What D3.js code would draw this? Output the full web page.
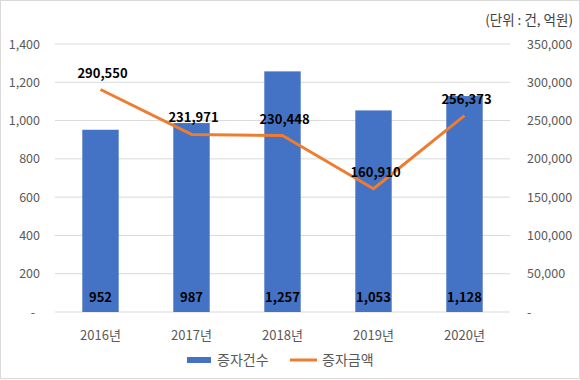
<!DOCTYPE html>
<html><head><meta charset="utf-8">
<script src="https://cdn.jsdelivr.net/npm/d3@7"></script>
<style>body{margin:0;background:#fff}svg{display:block}</style>
</head><body><svg id="c" width="580" height="380"></svg>
<script>
const categories = ["2016년","2017년","2018년","2019년","2020년"];
const counts = [952, 987, 1257, 1053, 1128];
const amounts = [290550, 231971, 230448, 160910, 256373];
const leftTicks = [0, 200, 400, 600, 800, 1000, 1200, 1400];
const rightTicks = [0, 50000, 100000, 150000, 200000, 250000, 300000, 350000];
const seriesNames = ["증자건수", "증자금액"];
const unitLabel = "(단위 : 건, 억원)";

const font = "'Malgun Gothic','Noto Sans CJK KR','Noto Sans',sans-serif";
const svg = d3.select("#c");
svg.append("rect").attr("x",0.5).attr("y",0.5).attr("width",579).attr("height",378)
  .attr("fill","#fff").attr("stroke","#d9d9d9");

const L = 55, R = 510, T = 44, B = 312;
const x = d3.scaleBand().domain(categories).range([L, R]).paddingInner(0.6).paddingOuter(0.3);
const yL = d3.scaleLinear().domain([0, 1400]).range([B, T]);
const yR = d3.scaleLinear().domain([0, 350000]).range([B, T]);
const fmt = d3.format(",");

// gridlines
svg.append("g").selectAll("line").data(leftTicks).join("line")
  .attr("x1", L).attr("x2", R).attr("y1", d => yL(d)).attr("y2", d => yL(d))
  .attr("stroke", "#d9d9d9").attr("stroke-width", 1);

// left axis
const la = svg.append("g").attr("transform", `translate(40,0)`)
  .call(d3.axisLeft(yL).tickValues(leftTicks).tickSize(0).tickPadding(0)
    .tickFormat(d => d === 0 ? "-" : fmt(d)));
la.select(".domain").remove();
la.selectAll("text").attr("font-family", font).attr("font-size", 12.5).attr("fill", "#595959");
la.selectAll(".tick").filter(d => d === 0).select("text").attr("dx", -5);

// right axis
const ra = svg.append("g").attr("transform", `translate(527,0)`)
  .call(d3.axisRight(yR).tickValues(rightTicks).tickSize(0).tickPadding(0)
    .tickFormat(d => d === 0 ? "-" : fmt(d)));
ra.select(".domain").remove();
ra.selectAll("text").attr("font-family", font).attr("font-size", 12.5).attr("fill", "#595959");

// bars
svg.append("g").selectAll("rect").data(counts).join("rect")
  .attr("x", (d, i) => x(categories[i])).attr("width", x.bandwidth())
  .attr("y", d => yL(d)).attr("height", d => yL(0) - yL(d))
  .attr("fill", "#4472C4");

// bar labels
svg.append("g").selectAll("text").data(counts).join("text")
  .attr("x", (d, i) => x(categories[i]) + x.bandwidth() / 2).attr("y", 302)
  .attr("text-anchor", "middle").attr("font-family", font).attr("font-size", 13)
  .attr("font-weight", "bold").attr("fill", "#000").text(d => fmt(d));

// line
const cx = i => x(categories[i]) + x.bandwidth() / 2;
svg.append("path").datum(amounts)
  .attr("d", d3.line().x((d, i) => cx(i)).y(d => yR(d)))
  .attr("fill", "none").attr("stroke", "#ED7D31").attr("stroke-width", 3)
  .attr("stroke-linejoin", "round");

// line labels
svg.append("g").selectAll("text").data(amounts).join("text")
  .attr("x", (d, i) => cx(i) + 2).attr("y", d => yR(d) - 12)
  .attr("text-anchor", "middle").attr("font-family", font).attr("font-size", 13)
  .attr("font-weight", "bold").attr("fill", "#000").text(d => fmt(d));

// x labels
svg.append("g").selectAll("text").data(categories).join("text")
  .attr("x", (d, i) => cx(i)).attr("y", 340)
  .attr("text-anchor", "middle").attr("font-family", font).attr("font-size", 13)
  .attr("fill", "#595959").text(d => d);

// unit label
svg.append("text").attr("x", 573).attr("y", 25).attr("text-anchor", "end")
  .attr("font-family", font).attr("font-size", 13.5).attr("fill", "#404040").text(unitLabel);

// legend
const lg = svg.append("g").attr("font-family", font).attr("font-size", 14).attr("fill", "#595959");
lg.append("rect").attr("x", 187).attr("y", 357).attr("width", 24).attr("height", 6).attr("fill", "#4472C4");
lg.append("text").attr("x", 217).attr("y", 365).text(seriesNames[0]);
lg.append("line").attr("x1", 290).attr("x2", 317).attr("y1", 360).attr("y2", 360)
  .attr("stroke", "#ED7D31").attr("stroke-width", 3);
lg.append("text").attr("x", 322).attr("y", 365).text(seriesNames[1]);
</script></body></html>
